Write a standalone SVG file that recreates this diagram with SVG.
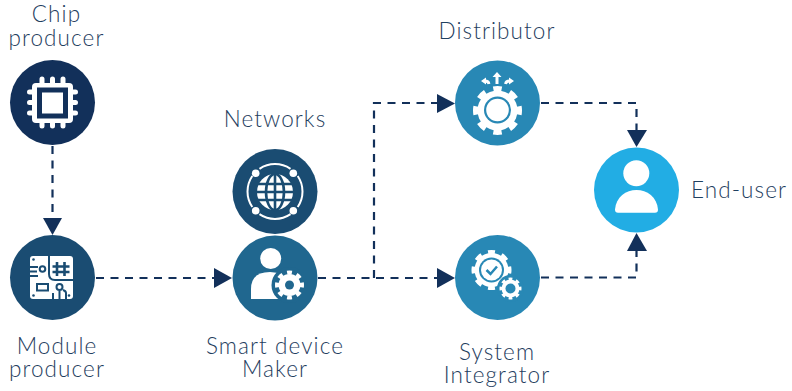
<svg xmlns="http://www.w3.org/2000/svg" width="792" height="391" viewBox="0 0 792 391">
<style>
text{font-family:"Lato","Liberation Sans",sans-serif;font-size:22.5px;font-weight:300;fill:#1f4060;text-anchor:middle;letter-spacing:1.1px}
.c{fill:none;stroke:#12305a;stroke-width:2.2;stroke-dasharray:8 6.5}
.w{fill:#fff}
.t{fill:none;stroke:#fff;stroke-dasharray:1 1;stroke-dashoffset:.5}
.n{fill:none;stroke:#1a4c72;stroke-width:2}
.h{fill:#12305a}
</style>
<rect width="792" height="391" fill="#fff"/>
<g id="connectors">
<path class="c" d="M52.500 146V219"/>
<path class="h" d="M43 218H62L52.500 235Z"/>
<path class="c" d="M96 278H215"/>
<path class="h" d="M214 268V288L232 278Z"/>
<path class="c" d="M318 278H438"/>
<path class="h" d="M437 268V288L455 278Z"/>
<path class="c" d="M374 278V103H438"/>
<path class="h" d="M437 94V113L455 103.500Z"/>
<path class="c" d="M541 103H636.500V131"/>
<path class="h" d="M627 130H647L636.500 147Z"/>
<path class="c" d="M541 277.500H636.500V250"/>
<path class="h" d="M627 251H647L636.500 233Z"/>
</g>
<g id="chip-producer">
<circle cx="52.500" cy="102.500" r="42.500" fill="#12305a"/>
<path stroke="#fff" stroke-width="5" stroke-linecap="round" d="M42 79V87M52.500 79V87M63 79V87M42 118V126M52.500 118V126M63 118V126M29.500 92H37M29.500 102.500H37M29.500 113H37M68 92H75.500M68 102.500H75.500M68 113H75.500"/>
<rect class="w" x="32" y="83" width="41" height="40" rx="4"/>
<rect x="37" y="87.500" width="31" height="31" fill="#12305a"/>
<rect class="w" x="42" y="92.500" width="21" height="21"/>
<text x="56.500" y="22">Chip</text>
<text x="56.500" y="46">producer</text>
</g>
<g id="module-producer">
<circle cx="52.500" cy="277.500" r="42.500" fill="#1a4c72"/>
<rect class="w" x="30" y="256" width="43" height="43" rx="3"/>
<path class="n" d="M49 255V274Q49 280 55 280H74M30 267H38M30 271.500H37M30 276H38"/>
<circle class="n" cx="42.500" cy="269" r="2.800"/>
<path class="n" stroke-width="2.600" style="stroke-width:2.600" d="M57 262V276M64.500 262V276M52.500 266.500H69.500M52.500 272H69.500"/>
<rect class="n" x="37" y="284" width="11" height="6.500"/>
<circle class="n" cx="59.500" cy="287" r="3"/>
<path class="n" d="M53 300V293M59.500 300V291M66 300V293Q66 291 63 290"/>
<circle cx="33.500" cy="259.500" r="1.300" fill="#1a4c72"/><circle cx="33.500" cy="295.500" r="1.300" fill="#1a4c72"/><circle cx="69" cy="295.500" r="1.300" fill="#1a4c72"/>
<text x="57" y="354">Module</text>
<text x="57" y="377">producer</text>
</g>
<g id="networks">
<circle cx="275" cy="191.500" r="42.500" fill="#1a4c72"/>
<circle cx="275" cy="191.500" r="27.500" fill="none" stroke="#fff" stroke-width="2" stroke-dasharray="33 10.200" stroke-dashoffset="16.500" pathLength="172.800"/>
<circle class="w" cx="275" cy="192" r="18"/>
<path fill="none" stroke="#1a4c72" stroke-width="2.600" d="M255 184H295M255 192H295M255 200H295M275 172V212"/>
<ellipse cx="275" cy="192" rx="9" ry="18" fill="none" stroke="#1a4c72" stroke-width="2.600"/>
<circle class="w" cx="255.700" cy="173.300" r="3.800"/><circle class="w" cx="293.300" cy="173.300" r="3.800"/><circle class="w" cx="255.700" cy="210.700" r="3.800"/><circle class="w" cx="293.300" cy="210.700" r="3.800"/>
<text x="275" y="127">Networks</text>
</g>
<g id="smart-device-maker">
<circle cx="275" cy="278" r="42.500" fill="#20678f"/>
<circle class="w" cx="270.700" cy="258.500" r="10.500"/>
<path class="w" d="M251 299V289Q251 272 270 272Q284 272 290 282V299Z"/>
<circle cx="289.500" cy="285" r="18" fill="#20678f"/>
<circle class="w" cx="289.500" cy="285" r="11"/>
<circle class="t" cx="289.500" cy="285" r="12.500" stroke-width="4" pathLength="16"/>
<circle cx="289.500" cy="285" r="4.500" fill="#20678f"/>
<text x="275" y="354">Smart device</text>
<text x="275" y="377">Maker</text>
</g>
<g id="distributor">
<circle cx="497.500" cy="103" r="42.500" fill="#2888b5"/>
<circle class="w" cx="497.500" cy="110.500" r="20"/>
<circle class="t" cx="497.500" cy="110.500" r="21.500" stroke-width="6" pathLength="16"/>
<circle cx="497.500" cy="110" r="13.500" fill="#2888b5"/>
<circle class="w" cx="497.500" cy="110" r="11.300"/>
<path class="w" d="M497 72L501.500 77H498.500V84H495.500V77H492.500Z"/>
<path fill="none" stroke="#fff" stroke-width="2.800" d="M489 84Q488.500 81 485 81M505.500 84Q506 81 509.500 81"/>
<path class="w" d="M481 81L486 77.500V84.500ZM514 81L509 77.500V84.500Z"/>
<text x="497" y="39">Distributor</text>
</g>
<g id="system-integrator">
<circle cx="497.500" cy="277.500" r="42.500" fill="#2888b5"/>
<circle class="w" cx="491.500" cy="270" r="17"/>
<circle class="t" cx="491.500" cy="270" r="18" stroke-width="4" pathLength="16"/>
<circle cx="491.500" cy="270" r="12.500" fill="#2888b5"/>
<circle class="w" cx="491.500" cy="270" r="10.500"/>
<path fill="none" stroke="#2888b5" stroke-width="2.500" d="M486.500 270L490.500 274L497 266.500"/>
<circle cx="510.500" cy="288.500" r="13.500" fill="#2888b5"/>
<circle class="w" cx="510.500" cy="288.500" r="9"/>
<circle class="t" cx="510.500" cy="288.500" r="9.500" stroke-width="3" pathLength="16"/>
<circle cx="510.500" cy="288.500" r="5" fill="#2888b5"/>
<text x="497" y="360">System</text>
<text x="497" y="383">Integrator</text>
</g>
<g id="end-user">
<circle cx="636.500" cy="190" r="42.500" fill="#22ade4"/>
<circle class="w" cx="636.300" cy="173.300" r="13"/>
<path class="w" d="M618 212.800Q615 212.800 615 209.500C616 197 626 190 636.500 190C647 190 657 197 658 209.500Q658 212.800 655 212.800Z"/>
<text x="739" y="198">End-user</text>
</g>
</svg>
